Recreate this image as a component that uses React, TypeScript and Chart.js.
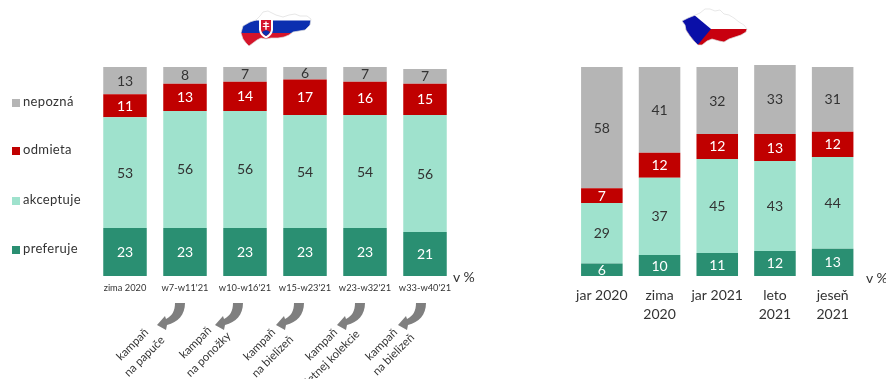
import React, { useEffect, useRef } from "react";
import { Chart, registerables } from "chart.js";

Chart.register(...registerables);

const FONT = "Lato, sans-serif";
const INK = "#333333";

// Response shares per wave, bottom segment first
const seriesNames = ["preferuje", "akceptuje", "odmieta", "nepozná"];
const seriesColors = ["#2a8f72", "#9fe2cd", "#c00000", "#b5b5b5"];
const labelColors = ["#ffffff", INK, "#ffffff", INK];

const skWaves = ["zima 2020", "w7-w11'21", "w10-w16'21", "w15-w23'21", "w23-w32'21", "w33-w40'21"];
const skPreferuje = [23, 23, 23, 23, 23, 21];
const skAkceptuje = [53, 56, 56, 54, 54, 56];
const skOdmieta = [11, 13, 14, 17, 16, 15];
const skNepozna = [13, 8, 7, 6, 7, 7];

const czWaves = ["jar 2020", ["zima", "2020"], "jar 2021", ["leto", "2021"], ["jeseň", "2021"]];
const czPreferuje = [6, 10, 11, 12, 13];
const czAkceptuje = [29, 37, 45, 43, 44];
const czOdmieta = [7, 12, 12, 13, 12];
const czNepozna = [58, 41, 32, 33, 31];

const campaigns = [
  { dx: 0, first: [133, 345], second: [145, 357], lines: ["kampaň", "na papuče"] },
  { dx: 58, first: [196, 343], second: [209, 355], lines: ["kampaň", "na ponožky"] },
  { dx: 119, first: [260, 345], second: [273, 357], lines: ["kampaň", "na bielizeň"] },
  { dx: 180, first: [322, 345], second: [333, 358], lines: ["kampaň", "letnej kolekcie"] },
  { dx: 241, first: [382, 345], second: [394, 355], lines: ["kampaň", "na bielizeň"] },
];

const legendRows = [
  { name: "nepozná", series: 3, y: 103 },
  { name: "odmieta", series: 2, y: 151 },
  { name: "akceptuje", series: 1, y: 201 },
  { name: "preferuje", series: 0, y: 250 },
];

// Writes each value in the middle of its segment
const segmentLabels = {
  id: "segmentLabels",
  afterDatasetsDraw(chart: any) {
    const { ctx } = chart;
    ctx.save();
    ctx.font = `14px ${FONT}`;
    ctx.textAlign = "center";
    ctx.textBaseline = "middle";
    chart.data.datasets.forEach((ds: any, d: number) => {
      ctx.fillStyle = labelColors[d];
      chart.getDatasetMeta(d).data.forEach((bar: any, i: number) => {
        ctx.fillText(String(ds.data[i]), bar.x, (bar.y + bar.base) / 2 + 0.5);
      });
    });
    ctx.restore();
  },
};

function buildChart(
  canvas: HTMLCanvasElement,
  labels: any[],
  rows: number[][],
  opts: { left: number; right: number; top: number; max: number; barPct: number; tickSize: number; tickPad: number; axisHeight: number; tickColor: string }
) {
  return new Chart(canvas, {
    type: "bar",
    data: {
      labels,
      datasets: rows.map((data, i) => ({
        label: seriesNames[i],
        data,
        backgroundColor: seriesColors[i],
        borderWidth: 0,
        categoryPercentage: 1,
        barPercentage: opts.barPct,
      })),
    },
    options: {
      responsive: false,
      animation: false,
      layout: { padding: { left: opts.left, right: opts.right, top: opts.top, bottom: 0 } },
      plugins: { legend: { display: false }, tooltip: { enabled: false }, title: { display: false } },
      scales: {
        x: {
          stacked: true,
          grid: { display: false, drawTicks: false },
          border: { display: false },
          afterFit: (scale: any) => {
            scale.height = opts.axisHeight;
          },
          ticks: {
            padding: opts.tickPad,
            maxRotation: 0,
            minRotation: 0,
            autoSkip: false,
            color: opts.tickColor,
            font: { family: FONT, size: opts.tickSize, lineHeight: 1.35 },
          },
        },
        y: { stacked: true, display: false, min: 0, max: opts.max },
      },
    },
    plugins: [segmentLabels],
  });
}

const SK_OUTLINE =
  "M241,33 L243,26 L250,22 L256,20 L260,16 L263,12 L268,11 L272,13 L276,15 L283,17 L289,15 L295,14 L300,16 L307,16 L311,19 L310,25 L305,30 L299,31 L293,32 L289,35 L284,37 L278,38 L271,38 L266,39 L261,38 L257,40 L253,43 L249,46 L246,43 L243,39 Z";
const CZ_OUTLINE =
  "M682,21 L688,18 L693,16 L700,13 L705,9 L710,9 L715,11 L720,10 L724,14 L729,15 L734,18 L739,22 L744,25 L747,29 L746,32 L741,35 L735,37 L729,39 L724,42 L719,41 L712,39 L707,41 L702,45 L698,45 L694,41 L690,36 L686,30 L685,25 Z";

function Maps() {
  return (
    <g>
      <defs>
        <clipPath id="skClip"><path d={SK_OUTLINE} /></clipPath>
        <clipPath id="czClip"><path d={CZ_OUTLINE} /></clipPath>
      </defs>
      <g clipPath="url(#skClip)">
        <rect x="238" y="8" width="76" height="13" fill="#ffffff" />
        <rect x="238" y="20.5" width="76" height="12.5" fill="#0b2fb0" />
        <rect x="238" y="33" width="76" height="15" fill="#d5142a" />
      </g>
      <path d={SK_OUTLINE} fill="none" stroke="#dcdcdc" strokeWidth="0.7" />
      <path d="M259,18 L273,18 L273,30 Q272,36 266,38.5 Q260,36 259,30 Z" fill="#ffffff" />
      <path d="M261,20 L271,20 L271,30 Q270,34 266,36 Q262,34 261,30 Z" fill="#d5142a" />
      <path d="M262,32 Q266,28.5 270,32 Q269,34.5 266,36 Q263,34.5 262,32 Z" fill="#0b2fb0" />
      <path d="M265.3,21.5 h1.4 v1.6 h2 v1.2 h-2 v1.6 h2.6 v1.2 h-2.6 v2.6 h-1.4 v-2.6 h-2.6 v-1.2 h2.6 v-1.6 h-2 v-1.2 h2 Z" fill="#ffffff" />
      <g clipPath="url(#czClip)">
        <rect x="680" y="6" width="70" height="23" fill="#ffffff" />
        <rect x="680" y="29" width="70" height="18" fill="#c8000f" />
        <path d="M678,12 L693,14 L711,29 L696,47 L678,47 Z" fill="#0a0fa8" />
      </g>
      <path d={CZ_OUTLINE} fill="none" stroke="#dedede" strokeWidth="0.7" />
    </g>
  );
}

function Campaign({ c }: { c: (typeof campaigns)[number] }) {
  const textStyle = { fontFamily: FONT, fontSize: 11.5, fill: INK };
  return (
    <g>
      <path
        transform={`translate(${c.dx},0)`}
        d="M175,303 L185,303 C185,315 178,322 167,325 L166,330 L157,325 L165,316 L166,319 C172,316 175,311 175,303 Z"
        fill="#7f7f7f"
      />
      {[c.first, c.second].map((p, i) => (
        <text key={i} x={p[0]} y={p[1]} textAnchor="middle" dominantBaseline="middle" transform={`rotate(-45 ${p[0]} ${p[1]})`} style={textStyle}>
          {c.lines[i]}
        </text>
      ))}
    </g>
  );
}

export default function App() {
  const skRef = useRef<HTMLCanvasElement>(null);
  const czRef = useRef<HTMLCanvasElement>(null);

  useEffect(() => {
    document.body.style.margin = "0";
    const sk = buildChart(skRef.current!, skWaves, [skPreferuje, skAkceptuje, skOdmieta, skNepozna], {
      left: 95,
      right: 45,
      top: 67,
      max: 100,
      barPct: 0.725,
      tickSize: 9.3,
      tickPad: 6,
      axisHeight: 103,
      tickColor: INK,
    });
    const cz = buildChart(czRef.current!, czWaves, [czPreferuje, czAkceptuje, czOdmieta, czNepozna], {
      left: 33,
      right: 24.5,
      top: 65,
      max: 101,
      barPct: 0.72,
      tickSize: 14,
      tickPad: 10,
      axisHeight: 103,
      tickColor: INK,
    });
    return () => {
      sk.destroy();
      cz.destroy();
    };
  }, []);

  return (
    <div style={{ position: "fixed", left: 0, top: 0, width: 886, height: 379, background: "#fff", overflow: "hidden" }}>
      <canvas ref={skRef} width={500} height={379} style={{ position: "absolute", left: 0, top: 0 }} />
      <canvas ref={czRef} width={346} height={379} style={{ position: "absolute", left: 540, top: 0 }} />
      <svg width={886} height={379} style={{ position: "absolute", left: 0, top: 0 }}>
        <Maps />
        {legendRows.map((r) => (
          <g key={r.name}>
            <rect x={12} y={r.y - 4} width={8} height={8} fill={seriesColors[r.series]} />
            <text x={23} y={r.y} dominantBaseline="middle" style={{ fontFamily: FONT, fontSize: 13, fill: INK, letterSpacing: 0.35 }}>
              {r.name}
            </text>
          </g>
        ))}
        <text x={453} y={278} dominantBaseline="middle" style={{ fontFamily: FONT, fontSize: 14, fill: INK }}>v %</text>
        <text x={866} y={279} dominantBaseline="middle" style={{ fontFamily: FONT, fontSize: 14, fill: INK }}>v %</text>
        {campaigns.map((c, i) => (
          <Campaign key={i} c={c} />
        ))}
      </svg>
    </div>
  );
}
